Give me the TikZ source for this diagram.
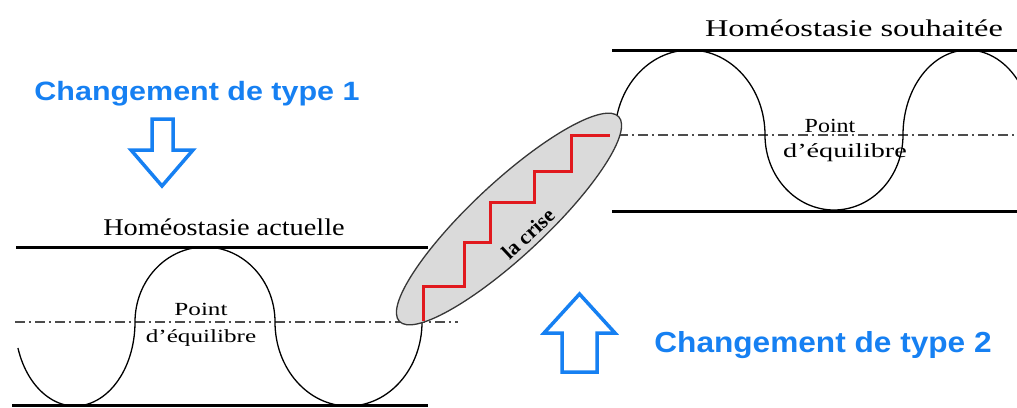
\documentclass[tikz,border=0pt]{standalone}
\usepackage{fontspec}
\setmainfont{Liberation Serif}
\newfontfamily\bluefamily{Liberation Sans}
\definecolor{cblue}{RGB}{22,128,242}
\definecolor{cred}{RGB}{225,25,30}
\definecolor{cfill}{RGB}{218,218,218}
\definecolor{cedge}{RGB}{55,55,55}
\begin{document}
\begin{tikzpicture}[x=1pt,y=1pt,
  bar/.style={line width=3pt},
  wave/.style={line width=1.3pt},
  midline/.style={line width=1.1pt, black!70, dash pattern=on 10pt off 4pt on 2pt off 4pt},
  titletext/.style={font=\fontsize{24}{28}\selectfont, anchor=base, inner sep=0pt},
  eqtext/.style={anchor=base, inner sep=0pt},
  chg/.style={text=cblue, anchor=base, inner sep=0pt},
  bigarrow/.style={draw=cblue, line width=3.5pt, fill=white, line join=miter},
  stairs/.style={draw=cred, line width=3pt, line join=miter}]
\useasboundingbox (0,-407) rectangle (1017,0);
\begin{scope}
\clip (0,-407) rectangle (1017,0);
% left panel
\draw[bar] (16,-247) -- (428,-247);
\draw[bar] (12,-405.5) -- (428,-405.5);
\draw[midline] (15,-322) -- (458,-322);
\draw[wave] (17.94,-347.96) arc[start angle=198, end angle=360, x radius=60, y radius=84]
  arc[start angle=180, end angle=0, x radius=70, y radius=75]
  arc[start angle=180, end angle=360, x radius=73.5, y radius=84]
  arc[start angle=180, end angle=160, x radius=70, y radius=75];
% right panel
\draw[bar] (612,-50) -- (1017,-50);
\draw[bar] (612,-211) -- (1017,-211);
\draw[midline] (618,-135) -- (1017,-135);
\draw[wave] (615,-135) arc[start angle=180, end angle=0, x radius=75, y radius=85]
  arc[start angle=180, end angle=360, x radius=69, y radius=75]
  arc[start angle=180, end angle=38, x radius=65, y radius=85];
% crisis ellipse
\draw[fill=cfill, draw=cedge, line width=1.3pt, rotate around={43:(509,-219)}]
  (509,-219) ellipse [x radius=150, y radius=37];
\draw[stairs] (423,-321) -- (423,-286) -- (464,-286) -- (464,-242) -- (490,-242)
  -- (490,-202) -- (534,-202) -- (534,-171) -- (571,-171) -- (571,-135) -- (610,-135);
\node[rotate=43, inner sep=0pt, font=\bfseries\fontsize{21}{24}\selectfont] (crise) at (528,-234) {la crise};
\end{scope}
% texts
\node[titletext, xscale=1.18] (actuelle) at (224,-235) {Homéostasie actuelle};
\node[titletext, xscale=1.35] (souhaitee) at (854,-36) {Homéostasie souhaitée};
\node[eqtext, font=\fontsize{18.5}{20}\selectfont, xscale=1.36] (pointL) at (201,-315) {Point};
\node[eqtext, font=\fontsize{18.5}{20}\selectfont, xscale=1.36] (eqL) at (201,-342) {d’équilibre};
\node[eqtext, font=\fontsize{20}{22}\selectfont, xscale=1.2] (pointR) at (830,-132) {Point};
\node[eqtext, font=\fontsize{20}{22}\selectfont, xscale=1.41] (eqR) at (845,-157) {d’équilibre};
\node[chg, font=\bluefamily\bfseries\fontsize{26.5}{30}\selectfont, xscale=1.15] (type1) at (197,-100) {Changement de type 1};
\node[chg, font=\bluefamily\bfseries\fontsize{29}{32}\selectfont, xscale=1.09] (type2) at (823,-352) {Changement de type 2};
% arrows
\draw[bigarrow] (152,-119) -- (173,-119) -- (173,-150) -- (193,-150) -- (162,-186)
  -- (131,-150) -- (152,-150) -- cycle;
\draw[bigarrow] (562,-372) -- (597,-372) -- (597,-333) -- (615,-333) -- (579.5,-294)
  -- (544,-333) -- (562,-333) -- cycle;
\end{tikzpicture}
\end{document}
